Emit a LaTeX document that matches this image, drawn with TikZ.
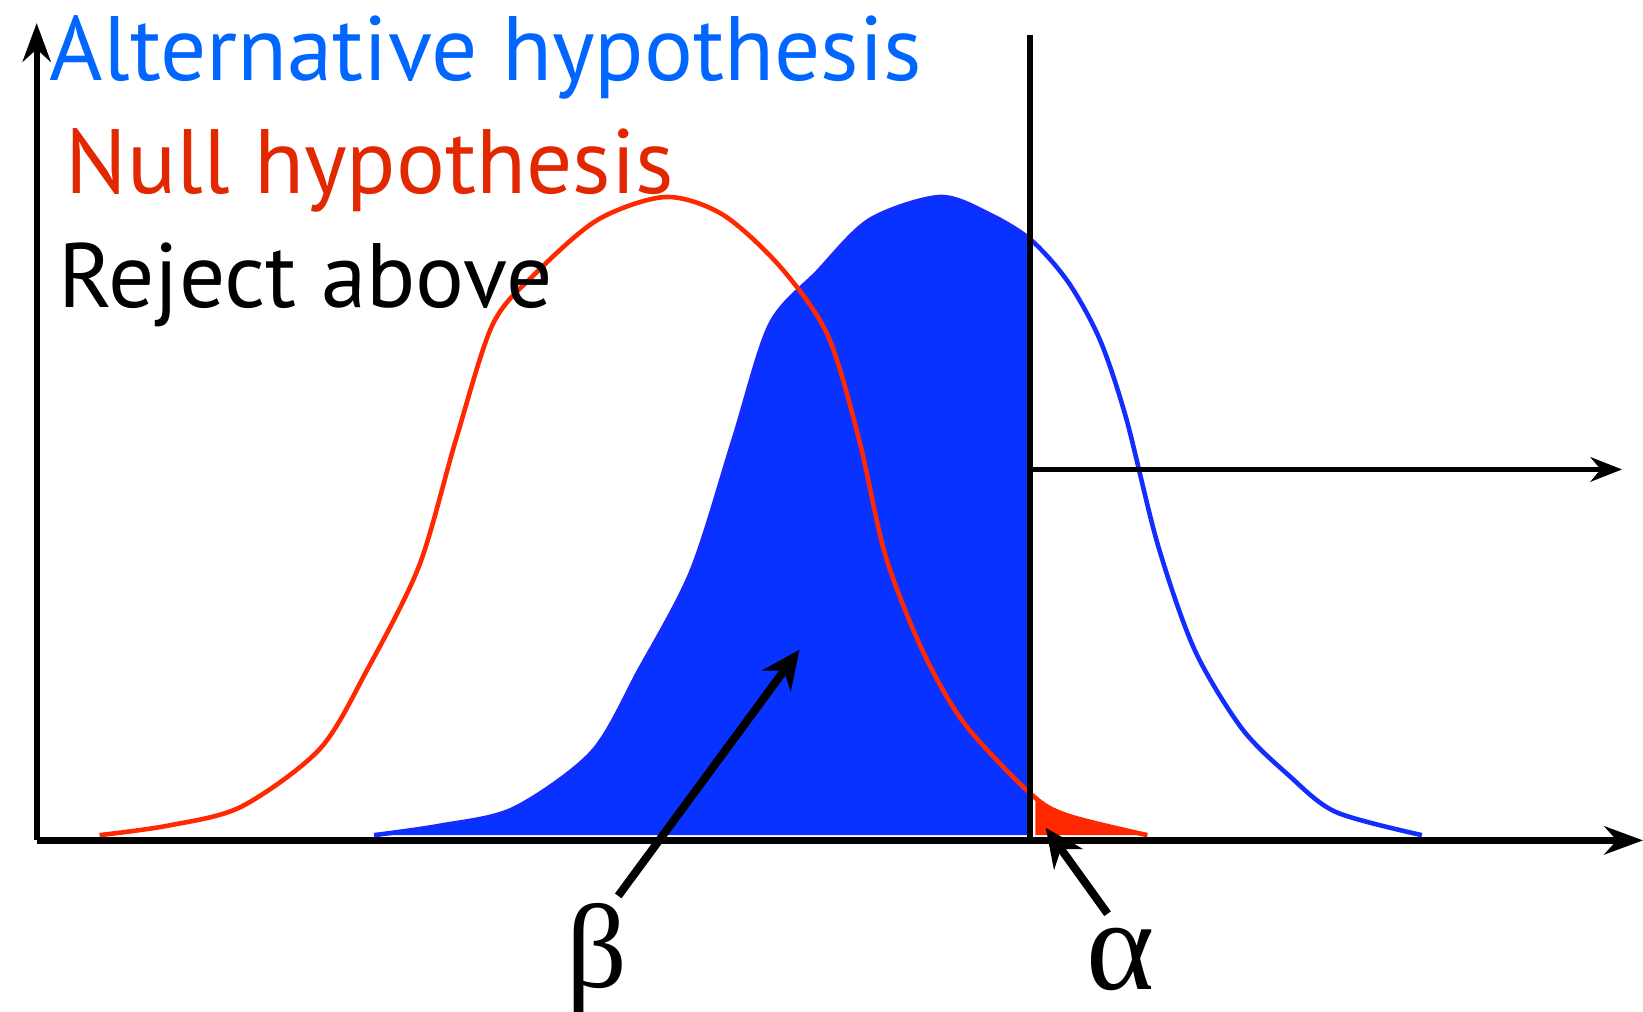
\documentclass[tikz,border=0pt]{standalone}
\usepackage{fontspec}
\setmainfont{Liberation Serif}
\newfontfamily\labelfont{PT Sans}
\usetikzlibrary{arrows.meta}

\definecolor{altblue}{RGB}{20,45,255}
\definecolor{altfill}{RGB}{8,50,255}
\definecolor{alttext}{RGB}{0,102,255}
\definecolor{nullred}{RGB}{255,40,0}
\definecolor{nulltext}{RGB}{226,40,0}

% the two distributions, in picture units
\newcommand{\altcurve}{plot[smooth, tension=0.5] coordinates {(357,797) (420,788) (490,772) (565,718) (610,640) (660,545) (700,420) (735,310) (780,260) (830,210) (897,188) (945,205) (985,230) (1020,270) (1050,325) (1075,400) (1105,520) (1140,620) (1185,695) (1230,740) (1275,775) (1357,797)}}
\newcommand{\nullcurve}{plot[smooth, tension=0.5] coordinates {(95,797) (160,788) (230,770) (305,715) (350,640) (400,540) (435,420) (470,310) (510,262) (570,210) (635,188) (690,205) (745,255) (790,320) (820,420) (845,530) (880,620) (920,690) (983,757) (1018,778) (1095,797)}}

\begin{document}
\begin{tikzpicture}[x=0.10478mm, y=-0.10478mm,
    axis/.style={line width=1.8pt, -{Stealth[length=11pt, width=8pt]}},
    curve/.style={line width=1.3pt},
    pointer/.style={line width=2.3pt, -{Stealth[length=11pt, width=10pt]}},
    legend/.style={anchor=base west, inner sep=0pt, font=\labelfont\fontsize{26}{31}\selectfont},
    greek/.style={inner sep=0pt, font=\fontsize{34}{40}\selectfont}]
    \useasboundingbox (0,0) rectangle (1568,965);

    % shaded areas
    \begin{scope}
        \clip (0,0) rectangle (981,800);
        \fill[altfill] \altcurve -- cycle;
    \end{scope}
    \begin{scope}
        \clip (988,0) rectangle (1568,800);
        \fill[nullred] \nullcurve -- cycle;
    \end{scope}

    % curves
    \draw[curve, altblue] \altcurve;
    \draw[curve, nullred] \nullcurve;

    % axes and threshold
    \coordinate (o) at (35,802);
    \coordinate (ytop) at (35,22);
    \coordinate (xend) at (1568,802);
    \coordinate (ctop) at (983,33);
    \coordinate (cbot) at (983,800);
    \coordinate (cmid) at (983,448);
    \coordinate (rend) at (1548,448);
    \draw[axis] (o) -- (ytop);
    \draw[axis, line width=2.1pt] (o) -- (xend);
    \draw[line width=1.8pt] (cbot) -- (ctop);
    \draw[line width=1.3pt, -{Stealth[length=9pt, width=7pt]}] (cmid) -- (rend);

    % labels
    \node[legend, alttext] (alt) at (47,77) {Alternative hypothesis};
    \node[legend, nulltext] (null) at (62,185) {Null hypothesis};
    \node[legend, black] (rej) at (55,293) {Reject above};

    \node[greek] (beta) at (570,914) {β};
    \node[greek, anchor=base, font=\fontsize{37}{42}\selectfont] (alpha) at (1069,944) {α};
    \coordinate (betafoot) at (590,855);
    \coordinate (betatip) at (763,620);
    \coordinate (alphafoot) at (1057,872);
    \coordinate (alphatip) at (998,790);
    \draw[pointer] (betafoot) -- (betatip);
    \draw[pointer] (alphafoot) -- (alphatip);
\end{tikzpicture}
\end{document}
